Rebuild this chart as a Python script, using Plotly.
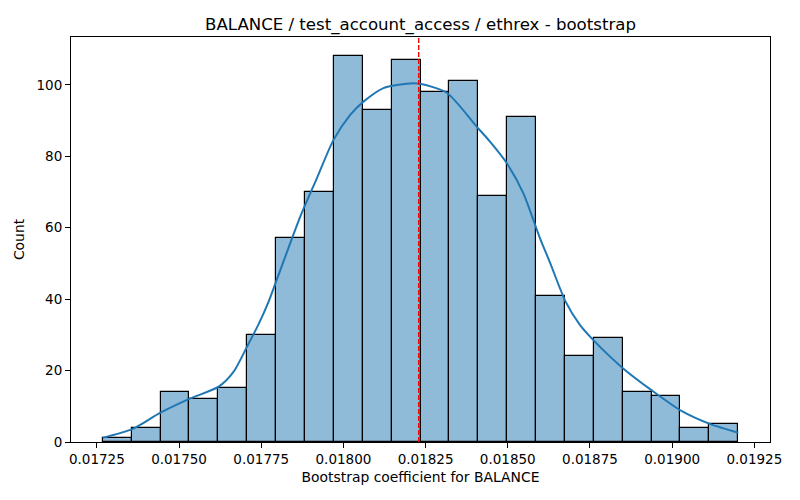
import numpy as np
import plotly.graph_objects as go

# ---- data ----
counts = [1, 4, 14, 12, 15, 30, 57, 70, 108, 93, 107, 98, 101, 69, 91, 41, 24, 29, 14, 13, 4, 5]
bin_min = 0.017268
bin_max = 0.019201

kde_x = [0.017268, 0.0173575, 0.0174435, 0.0175346, 0.0176206, 0.0176662, 0.0177069,
         0.0177421, 0.0177725, 0.0177980, 0.0178688, 0.0179195, 0.0179699, 0.0180207,
         0.0180611, 0.0181218, 0.0182029, 0.0182333, 0.0183144, 0.0184055, 0.0184459,
         0.0184967, 0.0185471, 0.0185978, 0.0186282, 0.0186759, 0.0187193, 0.0187649,
         0.0188509, 0.0189402, 0.0190282, 0.0191163, 0.0192014]
kde_y = [1.2, 3.6, 8.2, 12.2, 15.5, 19.7, 26.7, 33.0, 39.3, 45.6, 63.1, 73.9, 84.6, 91.6,
         95.3, 99.1, 100.4, 100.3, 97.8, 88.3, 84.1, 78.1, 69.7, 57.1, 50.3, 39.3, 32.8,
         28.1, 20.6, 14.3, 8.7, 5.0, 2.6]

mean_coef = 0.018229

x_ticks = [0.01725, 0.01750, 0.01775, 0.01800, 0.01825, 0.01850, 0.01875, 0.01900, 0.01925]
y_ticks = [0, 20, 40, 60, 80, 100]

title = "BALANCE / test_account_access / ethrex - bootstrap"
x_label = "Bootstrap coefficient for BALANCE"
y_label = "Count"

# ---- derived ----
n_bins = len(counts)
edges = np.linspace(bin_min, bin_max, n_bins + 1)
centers = (edges[:-1] + edges[1:]) / 2
bw = edges[1] - edges[0]

span = bin_max - bin_min
x_range = [bin_min - 0.05 * span, bin_max + 0.05 * span]
y_range = [0, max(counts) * 1.05]

font = "DejaVu Sans"

fig = go.Figure()
fig.add_trace(go.Bar(
    x=centers, y=counts, width=[bw] * n_bins,
    marker=dict(color="rgba(31,119,180,0.5)", line=dict(color="black", width=1.2)),
    hoverinfo="x+y", showlegend=False,
))
fig.add_trace(go.Scatter(
    x=kde_x, y=kde_y, mode="lines",
    line=dict(color="#1f77b4", width=2, shape="spline", smoothing=0.7),
    showlegend=False,
))
fig.add_shape(type="line", xref="x", yref="paper", x0=mean_coef, x1=mean_coef, y0=0, y1=1,
              line=dict(color="#ff0000", width=1.4, dash="5px,2px"))

axis_common = dict(
    showgrid=False, zeroline=False, showline=True, linecolor="black", linewidth=1,
    mirror=True, ticks="outside", ticklen=5, tickwidth=1, tickcolor="black",
    tickfont=dict(family=font, size=13.5, color="black"),
)

# page body has an 8px margin, so the figure is 792x492 placed at (8, 8)
fig.update_layout(
    width=792, height=492,
    margin=dict(l=63, r=30, t=29, b=58),
    paper_bgcolor="white", plot_bgcolor="white",
    bargap=0,
    title=dict(text=title, x=0.5, xref="paper", xanchor="center", y=0.968, yanchor="middle",
               font=dict(family=font, size=16.6, color="black")),
    xaxis=dict(range=x_range, tickvals=x_ticks, tickformat=".5f",
               title=dict(text=x_label, font=dict(family=font, size=13.9, color="black"), standoff=6),
               **axis_common),
    yaxis=dict(range=y_range, tickvals=y_ticks,
               title=dict(text=y_label, font=dict(family=font, size=13.9, color="black"), standoff=8),
               **axis_common),
)

fig.write_html("out.html")
